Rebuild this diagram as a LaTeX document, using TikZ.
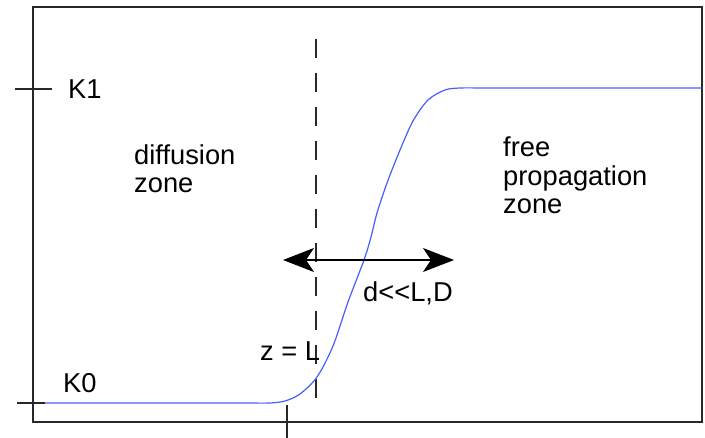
\documentclass[tikz,border=0pt]{standalone}
\usepackage{fontspec}
\setmainfont{Liberation Sans}
\usepackage{xcolor}
\usetikzlibrary{arrows.meta}
\definecolor{curveblue}{RGB}{70,95,250}
\definecolor{framegray}{RGB}{40,40,40}

\begin{document}
\begin{tikzpicture}[x=1pt,y=-1pt,
  font=\fontsize{27.3}{28.8}\selectfont,
  frame/.style={draw=framegray,line width=1.2pt},
  tick/.style={draw=framegray,line width=1.1pt},
  label/.style={inner sep=0pt,anchor=base west,align=left},
  boundary/.style={draw=framegray,line width=1.2pt,dash pattern=on 19pt off 15pt},
  profile/.style={draw=curveblue,line width=1.2pt},
  span/.style={{Stealth[length=31pt,width=24pt,inset=8pt]}-{Stealth[length=31pt,width=24pt,inset=8pt]},draw=black,line width=1.3pt}]

\path[use as bounding box] (0,0) rectangle (705,438);
\draw[frame] (33,7) rectangle (702,422);

% level ticks and front position
\coordinate (k1l) at (15,89);
\coordinate (k1r) at (52,89);
\coordinate (k0l) at (17,403);
\coordinate (k0r) at (45,403);
\coordinate (foot) at (287,405);
\coordinate (footend) at (287,438);
\draw[tick] (k1l)--(k1r);
\draw[tick] (k0l)--(k0r);
\draw[tick] (foot)--(footend);

\coordinate (ztop) at (316,39);
\coordinate (zbot) at (316,398);
\draw[boundary] (ztop)--(zbot);

% concentration profile
\draw[profile] (k0r)--(250,403)
  plot[smooth,tension=.5] coordinates {(250,403) (270,403) (285,401) (300,394)
    (317,377) (333,346) (348,302) (364,260) (371,237) (377,213) (387,183)
    (400,150) (413,121) (428,100) (445,90) (460,88) (480,88)}
  --(702,88);

% multi-line labels sit on their last line
\node[label] (k1) at (68,99) {K1};
\node[label] (k0) at (63,393) {K0};
\node[label] (diff) at (134,193) {diffusion\\zone};
\node[label] (free) at (503,214) {free\\propagation\\zone};
\node[label] (dlen) at (363,302) {d<{}<L,D};
\node[label] (zl) at (260,361) {z = L};

\coordinate (dleft) at (283,260);
\coordinate (dright) at (454,260);
\draw[span] (dleft)--(dright);

\end{tikzpicture}
\end{document}
